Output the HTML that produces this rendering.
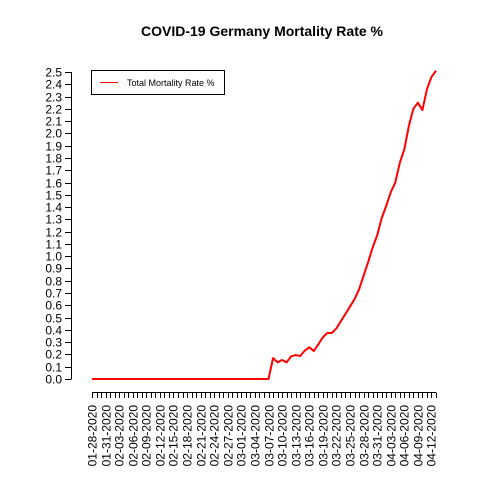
<!DOCTYPE html>
<html><head><meta charset="utf-8"><style>body{margin:0;background:#fff}svg{display:block}text{font-family:"Liberation Sans",sans-serif}</style></head>
<body>
<svg id="c" width="480" height="480">
<text x="262" y="36" text-anchor="middle" font-size="14" font-weight="bold">COVID-19 Germany Mortality Rate %</text>
<g id="yax"></g>
<g id="xax"></g>
<g id="plot"></g>
<g>
<rect x="91.5" y="70.5" width="133" height="24" fill="#fff" stroke="#000"/>
<line x1="100" y1="82.5" x2="118" y2="82.5" stroke="red"/>
<text x="127" y="86" font-size="9">Total Mortality Rate %</text>
</g>
</svg>
<script>
const startDate = [2020, 0, 28];
const nDays = 77;
const nonZero = [0.17,0.136,0.155,0.136,0.185,0.195,0.187,0.231,0.258,0.228,0.282,0.34,0.375,0.375,0.413,0.472,0.53,0.59,0.65,0.73,0.84,0.95,1.07,1.17,1.31,1.41,1.52,1.60,1.76,1.87,2.06,2.20,2.25,2.19,2.36,2.46,2.51];
const yTicks = [0,0.1,0.2,0.3,0.4,0.5,0.6,0.7,0.8,0.9,1.0,1.1,1.2,1.3,1.4,1.5,1.6,1.7,1.8,1.9,2.0,2.1,2.2,2.3,2.4,2.5];
const values = [];
for (let i=0;i<nDays-nonZero.length;i++) values.push(0);
nonZero.forEach(v=>values.push(v));
const NS="http://www.w3.org/2000/svg";
const X0=92,X1=436,Y0=379,Y1=72;
const xs=i=>X0+(X1-X0)*i/(nDays-1);
const ys=v=>Y0-(Y0-Y1)*v/2.5;
function mk(t,a,p){const e=document.createElementNS(NS,t);for(const k in a)e.setAttribute(k,a[k]);p.appendChild(e);return e;}
const yax=document.getElementById('yax');
mk('line',{x1:71.5,y1:ys(0),x2:71.5,y2:ys(2.5),stroke:'#000'},yax);
yTicks.forEach(v=>{
 const y=Math.round(ys(v))+0.5;
 const t=mk('line',{x1:65,y1:y,x2:71.5,y2:y,stroke:'#000'},yax);
 
 
 const l=mk('text',{x:62,y:y+4,'text-anchor':'end','font-size':12},yax);
 l.textContent=v.toFixed(1);
 
 
});
const xax=document.getElementById('xax');
mk('line',{x1:xs(0),y1:392.5,x2:xs(nDays-1),y2:392.5,stroke:'#000'},xax);
const pad=n=>String(n).padStart(2,'0');
for(let i=0;i<nDays;i++){
 const x=Math.round(xs(i))+0.5;
 const t=mk('line',{x1:x,y1:392.5,x2:x,y2:398,stroke:'#000'},xax);
 
 
 if(i%3===0){
  const d=new Date(startDate[0],startDate[1],startDate[2]+i);
  const s=pad(d.getMonth()+1)+'-'+pad(d.getDate())+'-'+d.getFullYear();
  const l=mk('text',{x:0,y:0,'text-anchor':'end','font-size':12,transform:`translate(${x+4},405) rotate(-90)`},xax);
  l.textContent=s;
  
  
 }
}
const plot=document.getElementById('plot');
const p=mk('polyline',{points:values.map((v,i)=>xs(i)+','+ys(v)).join(' '),fill:'none',stroke:'red','stroke-width':2,'stroke-linejoin':'round'},plot);


</script>
</body></html>
